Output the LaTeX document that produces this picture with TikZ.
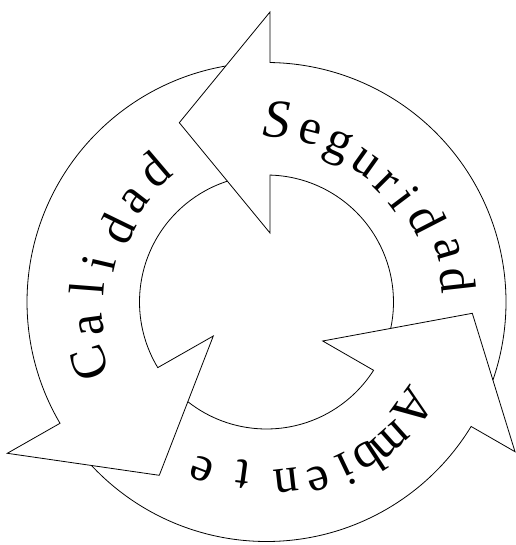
\documentclass[tikz,border=0pt]{standalone}
\usepackage{fontspec}
\setmainfont{Liberation Serif}
\begin{document}
\begin{tikzpicture}[x=1pt,y=1pt,
  arrowline/.style={draw=black, line width=0.8pt, line join=miter},
  letter/.style={inner sep=0pt, font=\fontsize{50}{56}\selectfont},
  capletter/.style={inner sep=0pt, font=\fontsize{54}{60}\selectfont\itshape}]
\useasboundingbox (-266.5,-243) rectangle (248.5,302);
% Seguridad arrow (head at the top, pointing left)
\draw[arrowline] (-19.03:239.5) arc[start angle=-19.03, end angle=89.163, radius=239.5]
  -- (3.5,290) -- (-87.2,179.3) -- (3.5,69) -- (88.42:127)
  arc[start angle=88.42, end angle=-12.0, radius=127];
% Ambiente arrow (head at the lower right)
\draw[arrowline] (-136.96:239.5) arc[start angle=-136.96, end angle=-31.31, radius=239.5]
  -- (248.5,-149.7) -- (205.8,-11.3) -- (56.2,-39) -- (-32.53:127)
  arc[start angle=-32.53, end angle=-128.28, radius=127];
% Calidad arrow (head at the lower left)
\draw[arrowline] (99.79:239.5) arc[start angle=99.79, end angle=210.43, radius=239.5]
  -- (-259.2,-151.3) -- (-107.2,-173.3) -- (-53.2,-34) -- (211.11:127)
  arc[start angle=211.11, end angle=107.94, radius=127];
% Seguridad
\node[capletter, rotate=-3.2] (seg0) at (86.8:182.3) {S};
\foreach \a/\r/\t [count=\i] in {75.6/175/e, 65.4/169/g, 54.6/170/u, 44.9/169/r, 37.1/173/i, 27.2/181/d, 16.2/189/a, 6.4/193/d}
  \node[letter, rotate=\a-90] (seg\i) at (\a:\r) {\t};
% Ambiente
\foreach \a/\r/\t [count=\i] in {-35.9/181/A, -48.2/185.3/m, -56.9/188/b, -64.5/186/i, -73.6/184/e, -83.5/179.3/n, -97.8/174/t, -111.1/179/e}
  \node[letter, rotate=\a-90] (amb\i) at (\a:\r) {\t};
% Calidad
\foreach \a/\r/\t [count=\i] in {199.1/186.7/C, 187.6/176.4/a, 175.6/180.3/l, 166.8/172/i, 154/167/d, 142.3/166/a, 130.4/174/d}
  \node[letter, rotate=\a-90] (cal\i) at (\a:\r) {\t};
\end{tikzpicture}
\end{document}
